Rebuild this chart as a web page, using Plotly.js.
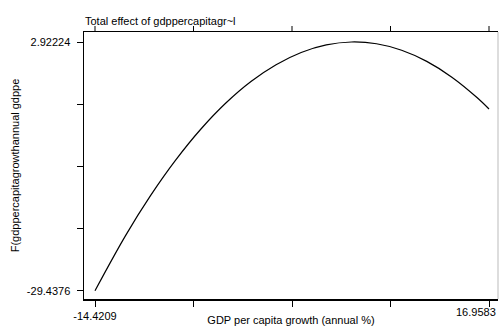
<!DOCTYPE html>
<html>
<head>
<meta charset="utf-8">
<script src="https://cdn.plot.ly/plotly-3.0.1.min.js"></script>
<style>html,body{margin:0;padding:0;background:#fff;}#chart{width:499px;height:326px;}</style>
</head>
<body>
<div id="chart"></div>
<script>
var growth = [-14.4209, -12, -10, -8, -6, -4, -2, 0, 2, 4, 6, 8, 10, 12, 14, 16, 16.9583];
var effect = [-29.4376, -22.30, -17.07, -12.45, -8.43, -5.02, -2.22, -0.03, 1.56, 2.54, 2.92224, 2.69, 1.85, 0.40, -1.65, -4.30, -5.79];

var xTickVals = [-14.4209, -6.5761, 1.2687, 9.1135, 16.9583];
var xTickText = ['-14.4209', '', '', '', '16.9583'];
var yTickVals = [-29.4376, -21.3476, -13.2577, -5.1677, 2.92224];
var yTickText = ['-29.4376', '', '', '', '2.92224'];

var chartTitle = 'Total effect of gdppercapitagr~l';
var xTitle = 'GDP per capita growth (annual %)';
var yTitle = 'F(gdppercapitagrowthannual gdppe';

var font = {family: '"Liberation Sans", Arial, sans-serif', size: 11, color: '#000'};

var trace = {
  x: growth, y: effect, type: 'scatter', mode: 'lines',
  line: {color: '#000', width: 1.2, shape: 'spline', smoothing: 1},
  hoverinfo: 'skip'
};

var shapes = [
  {type: 'line', xref: 'paper', yref: 'paper', x0: 1, x1: 1, y0: 0, y1: 1, line: {color: '#bbb', width: 1}}
];
// top-edge ticks mirroring the bottom ones
xTickVals.forEach(function (v) {
  shapes.push({type: 'line', xref: 'x', yref: 'paper', x0: v, x1: v, y0: 1, y1: 1 + 6 / 267, line: {color: '#000', width: 1}});
});

var layout = {
  width: 499, height: 326,
  margin: {l: 84, r: 1, t: 32, b: 27, pad: 0},
  paper_bgcolor: '#fff', plot_bgcolor: '#fff',
  font: font,
  showlegend: false,
  title: {text: chartTitle, font: font, x: 0, xref: 'paper', xanchor: 'left', y: 0.935, yref: 'container', yanchor: 'middle', pad: {l: 1}},
  xaxis: {
    range: [-15.297, 17.675],
    tickmode: 'array', tickvals: xTickVals, ticktext: xTickText.slice(0, 4).concat(['']),
    ticks: 'outside', ticklen: 6, tickwidth: 1, tickcolor: '#000',
    showline: true, linecolor: '#000', linewidth: 1.5, mirror: true,
    showgrid: false, zeroline: false,
    tickfont: font,
    title: {text: xTitle, font: font, standoff: 3}
  },
  yaxis: {
    range: [-30.517, 4.223],
    tickmode: 'array', tickvals: yTickVals, ticktext: yTickText,
    ticks: 'outside', ticklen: 6, tickwidth: 1, tickcolor: '#000',
    ticklabelstandoff: 4,
    showline: true, linecolor: '#000', linewidth: 1.5, mirror: false,
    showgrid: false, zeroline: false,
    tickfont: font,
    title: {text: yTitle, font: font, standoff: 5}
  },
  shapes: shapes,
  annotations: [
    {xref: 'paper', yref: 'paper', x: 1, y: 0, xanchor: 'right', yanchor: 'top', yshift: -5, text: xTickText[4], showarrow: false, font: font}
  ]
};

Plotly.newPlot('chart', [trace], layout, {staticPlot: true, displayModeBar: false});
</script>
</body>
</html>
